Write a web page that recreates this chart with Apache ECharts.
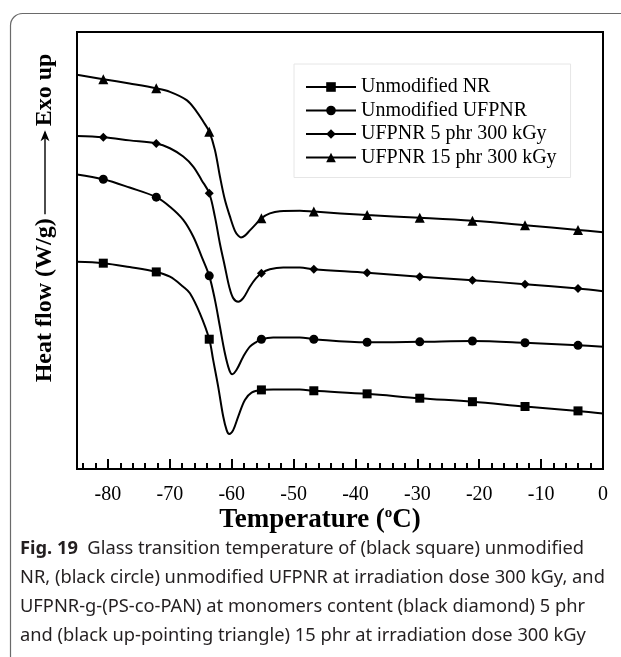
<!DOCTYPE html>
<html><head><meta charset="utf-8">
<script src="https://cdn.jsdelivr.net/npm/echarts@6/dist/echarts.min.js"></script>
<style>html,body{margin:0;padding:0;background:#fff}#c{width:621px;height:657px}</style>
</head><body><div id="c"></div>
<script>
// ---- data ----
const xMajorTicks = [-80, -70, -60, -50, -40, -30, -20, -10, 0];
const xMinorTicks = [-84, -82, -78, -76, -74, -72, -68, -66, -64, -62, -58, -56, -54, -52, -48, -46, -44, -42,
  -38, -36, -34, -32, -28, -26, -24, -22, -18, -16, -14, -12, -8, -6, -4, -2];
const seriesNames = ['Unmodified NR', 'Unmodified UFPNR', 'UFPNR 5 phr 300 kGy', 'UFPNR 15 phr 300 kGy'];
const seriesSymbols = ['rect', 'circle', 'diamond', 'triangle'];
const markerTemps = [-80.75, -72.19, -63.63, -55.2, -46.73, -38.12, -29.61, -21.1, -12.6, -4.04];

const unmodifiedNR = [[-85,47.4],[-80.75,47.1],[-76.5,46.2],[-72.19,45.1],[-69.98,44.0],[-67.83,41.7],[-66.75,40.2],[-65.14,35.6],[-63.63,29.7],[-62.99,24.9],[-62.18,18.8],[-61.37,12.0],[-60.82,8.9],[-60.4,8.0],[-59.76,8.9],[-58.95,12.0],[-57.87,15.8],[-56.79,17.5],[-55.2,18.1],[-53.3,18.2],[-48.99,18.2],[-46.73,17.9],[-38.12,17.2],[-29.61,16.2],[-21.1,15.4],[-12.6,14.3],[-4.04,13.3],[0,12.7]];
const unmodifiedUFPNR = [[-85,67.4],[-80.75,66.3],[-76.5,64.4],[-72.19,62.2],[-69.98,60.0],[-67.83,57.0],[-66.22,53.2],[-64.86,48.6],[-63.63,44.2],[-62.71,38.7],[-61.91,32.6],[-61.1,26.5],[-60.4,22.7],[-59.92,21.7],[-59.21,22.7],[-58.14,25.7],[-57.06,28.0],[-55.98,29.1],[-55.2,29.7],[-53.3,30.1],[-48.99,30.1],[-46.73,29.7],[-38.12,29.0],[-29.61,29.1],[-21.1,29.3],[-12.6,28.9],[-4.04,28.3],[0,28.0]];
const ufpnr5phr = [[-85,76.2],[-80.75,75.9],[-76.5,75.2],[-72.19,74.5],[-69.98,73.4],[-67.83,71.5],[-66.22,69.2],[-64.86,66.1],[-63.63,63.1],[-62.71,57.7],[-61.91,51.6],[-61.1,46.3],[-60.4,41.7],[-59.76,39.1],[-58.95,38.3],[-58.14,39.1],[-57.06,41.7],[-56.09,43.6],[-55.2,44.8],[-53.83,45.7],[-51.68,46.1],[-48.99,46.1],[-46.73,45.7],[-38.12,44.9],[-29.61,44.0],[-21.1,43.2],[-12.6,42.3],[-4.04,41.3],[0,40.7]];
const ufpnr15phr = [[-85,90.2],[-80.75,89.2],[-76.5,88.2],[-72.19,87.1],[-69.98,86.3],[-67.28,84.4],[-65.67,81.8],[-64.6,79.5],[-63.63,77.2],[-62.71,73.0],[-61.91,67.0],[-61.1,61.6],[-60.29,57.8],[-59.48,54.5],[-58.95,53.4],[-58.51,53.0],[-57.87,53.4],[-57.06,54.6],[-56.25,55.8],[-55.2,57.4],[-53.83,58.5],[-52.22,59.0],[-48.99,59.1],[-46.73,58.9],[-38.12,58.1],[-29.61,57.5],[-21.1,56.8],[-12.6,55.8],[-4.04,54.7],[0,54.2]];
const allCurves = [unmodifiedNR, unmodifiedUFPNR, ufpnr5phr, ufpnr15phr];

const yLabelMain = 'Heat flow (W/g)';
const yLabelEnd = 'Exo up';
const captionLines = [
  'Glass transition temperature of (black square) unmodified',
  'NR, (black circle) unmodified UFPNR at irradiation dose 300 kGy, and',
  'UFPNR-g-(PS-co-PAN) at monomers content (black diamond) 5 phr',
  'and (black up-pointing triangle) 15 phr at irradiation dose 300 kGy'
];

// ---- layout ----
const SERIF = '"Liberation Serif","Times New Roman",serif';
const SANS = '"Noto Sans","Open Sans",sans-serif';
const symbolSizes = [9, 9, 9, 10];

function measure(text, font) {
  const c = document.createElement('canvas').getContext('2d');
  c.font = font; return c.measureText(text).width;
}

const chart = echarts.init(document.getElementById('c'), null, {renderer: 'canvas'});

const series = allCurves.map((curve, i) => ({
  name: seriesNames[i],
  type: 'line',
  smooth: 0.35,
  symbol: seriesSymbols[i],
  symbolSize: symbolSizes[i],
  showAllSymbol: true,
  color: '#000',
  lineStyle: {color: '#000', width: 2},
  itemStyle: {color: '#000'},
  emphasis: {disabled: true},
  data: curve.map(p => markerTemps.includes(p[0]) ? {value: p} : {value: p, symbol: 'none'}),
  z: 3
}));

// y label (rotated)
const yFont = 'bold 24px ' + SERIF;
const w1 = measure(yLabelMain, yFont), w2 = measure(yLabelEnd, yFont);
const arrowLen = 84, gap = 4;
const total = w1 + gap + arrowLen + gap + w2;
const yCenter = 218;
const yLabel = {
  type: 'group', x: 45, y: yCenter + total / 2, rotation: Math.PI / 2,
  children: [
    {type: 'text', x: 0, y: 0, style: {text: yLabelMain, font: yFont, fill: '#000', verticalAlign: 'middle', align: 'left'}},
    {type: 'line', shape: {x1: w1 + gap, y1: 0, x2: w1 + gap + arrowLen - 2, y2: 0}, style: {stroke: '#000', lineWidth: 1.4}},
    {type: 'polygon', shape: {points: [[w1 + gap + arrowLen, 0], [w1 + gap + arrowLen - 11, -4.5], [w1 + gap + arrowLen - 8, 0], [w1 + gap + arrowLen - 11, 4.5]]}, style: {fill: '#000'}},
    {type: 'text', x: w1 + gap + arrowLen + gap, y: 0, style: {text: yLabelEnd, font: yFont, fill: '#000', verticalAlign: 'middle', align: 'left'}}
  ]
};

const captionFont = 18.3;
const captionGraphics = captionLines.map((t, i) => ({
  type: 'text', left: 20, top: 540 + i * 29,
  style: i === 0 ? {
    text: '{b|Fig. 19}  ' + t,
    rich: {b: {fontWeight: 'bold', fontFamily: SANS, fontSize: captionFont, fill: '#231f20'}},
    fontFamily: SANS, fontSize: captionFont, fill: '#231f20'
  } : {text: t, fontFamily: SANS, fontSize: captionFont, fill: '#231f20'}
}));

const option = {
  animation: false,
  backgroundColor: '#fff',
  grid: {left: 77, right: 18, top: 32, bottom: 188, show: true, borderColor: '#000', borderWidth: 2, backgroundColor: 'transparent'},
  legend: {
    data: seriesNames, orient: 'vertical', left: 294, top: 64,
    backgroundColor: '#fff', borderColor: '#e6e6e6', borderWidth: 1,
    padding: [13, 14, 10, 11], itemWidth: 50, itemHeight: 12, itemGap: 3.5,
    textStyle: {fontFamily: SERIF, fontSize: 20, color: '#000'},
    selectedMode: false
  },
  xAxis: [{
    type: 'value', min: -85, max: 0, position: 'bottom',
    axisLine: {show: true, lineStyle: {color: '#000', width: 2}},
    axisTick: {show: true, inside: true, length: 10, customValues: xMajorTicks, lineStyle: {color: '#000', width: 2}},
    axisLabel: {show: true, customValues: xMajorTicks, margin: 16, fontFamily: SERIF, fontSize: 20, color: '#000'},
    splitLine: {show: false}
  }, {
    type: 'value', min: -85, max: 0, position: 'bottom',
    axisLine: {show: false},
    axisTick: {show: true, inside: true, length: 6, customValues: xMinorTicks, lineStyle: {color: '#000', width: 2}},
    axisLabel: {show: false},
    splitLine: {show: false}
  }],
  yAxis: {
    type: 'value', min: 0, max: 100,
    axisLine: {show: true, lineStyle: {color: '#000', width: 2}},
    axisTick: {show: false}, axisLabel: {show: false}, splitLine: {show: false}
  },
  series: series,
  graphic: [
    {type: 'rect', shape: {x: 10.5, y: 13.5, width: 720, height: 720, r: 12}, style: {fill: 'none', stroke: '#6a6a6a', lineWidth: 1.2}, z: -1},
    yLabel,
    {type: 'text', x: 320, y: 520, style: {
      text: '{t|Temperature (}{s|o}{t|C)}', align: 'center', verticalAlign: 'middle',
      rich: {t: {font: 'bold 27px ' + SERIF, fill: '#000'}, s: {font: 'bold 15px ' + SERIF, fill: '#000', padding: [0, 0, 14, 0]}}
    }},
    ...captionGraphics
  ]
};
chart.setOption(option);
</script></body></html>
